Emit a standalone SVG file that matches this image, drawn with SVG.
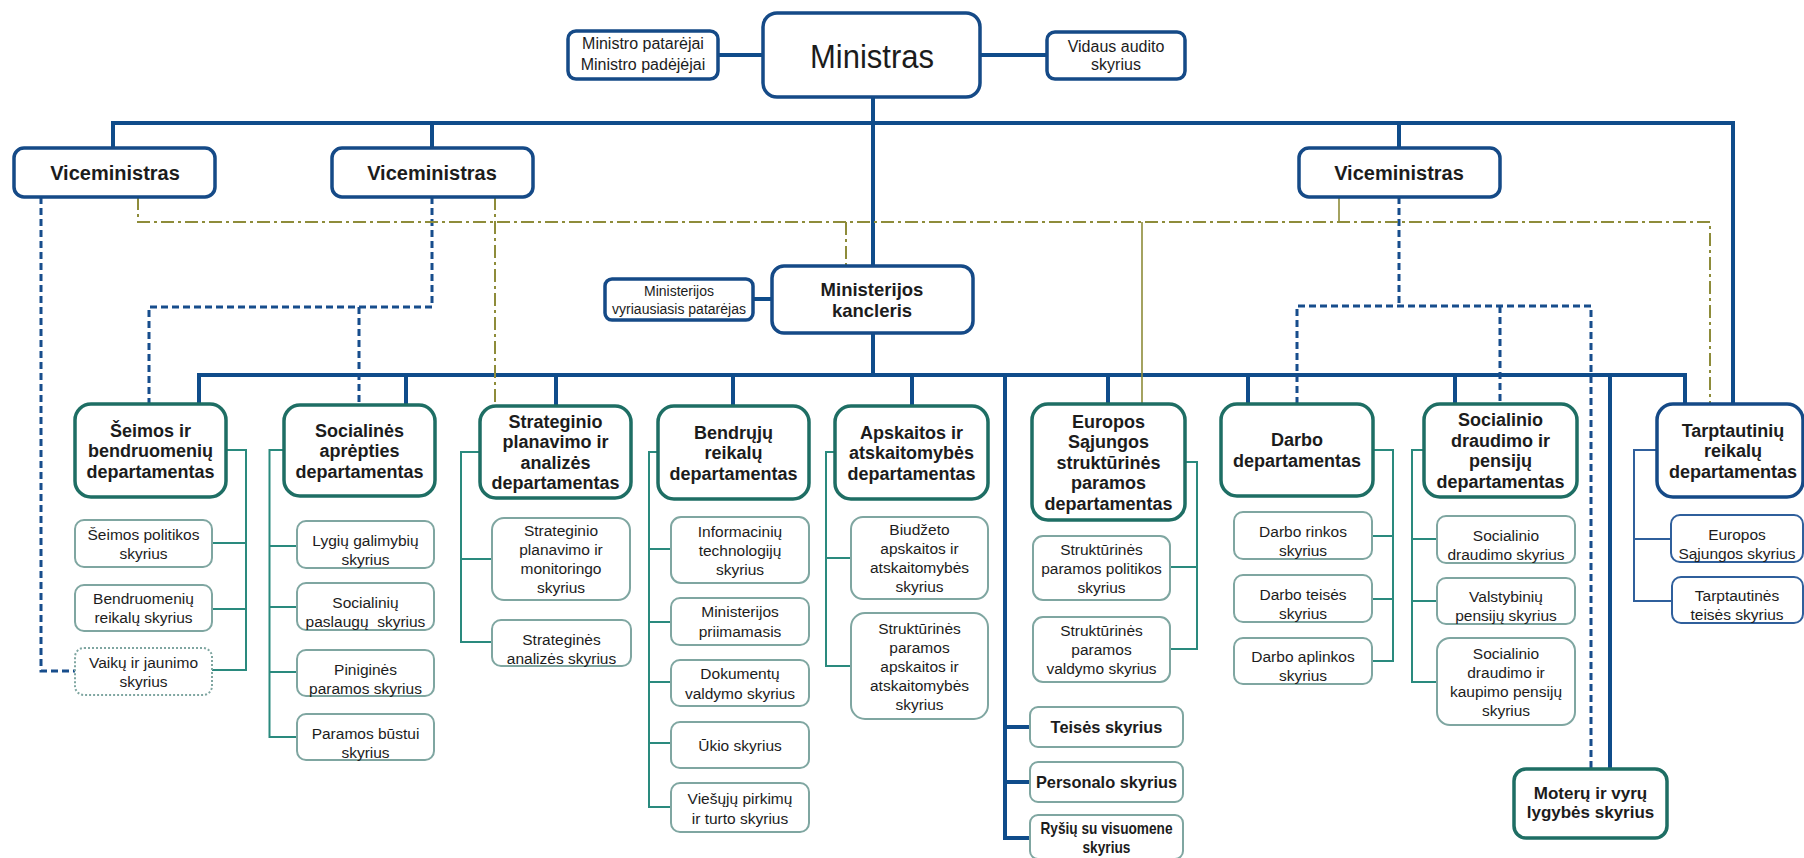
<svg xmlns="http://www.w3.org/2000/svg" width="1804" height="858" viewBox="0 0 1804 858">
<style>
text{font-family:"Liberation Sans",Arial,sans-serif;fill:#1c1c1c;text-anchor:middle}
.bx{fill:#fff;stroke:#154a87;stroke-width:3.5}
.dp{fill:#fff;stroke:#1e6e64;stroke-width:3.5}
.sb{fill:#fff;stroke:#7fa6a1;stroke-width:2}
.sbb{fill:#fff;stroke:#2f5f9c;stroke-width:2}
.m{fill:none;stroke:#0f4c8a;stroke-width:4}
.bd{fill:none;stroke:#174d8c;stroke-width:3;stroke-dasharray:7 4}
.ol{fill:none;stroke:#8e8c3a;stroke-width:2;stroke-dasharray:13 4 3 4}
.os{fill:none;stroke:#8e8c3a;stroke-width:1.6}
.tc{fill:none;stroke:#2a8a7e;stroke-width:2}
.tb{fill:none;stroke:#2f5f9c;stroke-width:2}
.vm{font-size:20px;font-weight:bold}
.d{font-size:18px;font-weight:bold}
.s{font-size:15.5px}
.sm{font-size:16px}
.bs{font-size:16.4px;font-weight:bold}
</style>
<g id="connectors">
<path class="m" d="M873 97V266M873 333V375"/>
<path class="m" stroke-width="4.5" d="M113 148V123H1733V404M432 123V148M1399 123V148"/>
<path class="m" stroke-width="3" d="M718 55H763M980 55H1047M753 299H772"/>
<path class="m" d="M199 404V375H1685V404M406 375V405M556 375V406M733 375V406M912 375V406M1108 375V404M1248 375V404M1455 375V404M1610 375V769"/>
<path class="m" stroke-width="3.5" d="M1005 375V838H1030M1005 727H1030M1005 782H1030"/>
<path class="bd" d="M41 197V671H75M432 197V307H149V404M359 307V405M1399 197V306M1297 404V306H1591V769M1500 306V404"/>
<path class="ol" d="M138 197V222H1710V404M495 197V406M846 222V266"/>
<path class="os" d="M1142 222V404M1339 197V222"/>
<path class="tc" d="M226 450H246V670H212M246 543H212M246 609H212"/>
<path class="tc" d="M284 450H269.5V737H297M269.5 546H297M269.5 607H297M269.5 672H297"/>
<path class="tc" d="M480 452H461V642H492M461 559H492"/>
<path class="tc" d="M658 452H649V807H671M649 549H671M649 622H671M649 682H671M649 743H671"/>
<path class="tc" d="M835 452H826V666H851M826 558H851"/>
<path class="tc" d="M1185 462H1197V649H1170M1197 567H1170"/>
<path class="tc" d="M1373 450H1393V661H1372M1393 536H1372M1393 599H1372"/>
<path class="tc" d="M1424 450H1412V682H1437M1412 539H1437M1412 601H1437"/>
<path class="tb" d="M1657 450H1634V601H1671M1634 539H1671"/>
</g>
<g id="ministras"><rect class="bx" x="763" y="13" width="217" height="84" rx="14" stroke-width="4.5"/><text x="872" y="68" font-size="33" textLength="124" lengthAdjust="spacingAndGlyphs">Ministras</text></g>
<g id="patarejai"><rect class="bx" x="568" y="31" width="150" height="48" rx="8" stroke="#4d72aa" stroke-width="2"/><text class="sm"><tspan x="643" y="49">Ministro patarėjai</tspan><tspan x="643" y="70">Ministro padėjėjai</tspan></text></g>
<g id="auditas"><rect class="bx" x="1047" y="32" width="138" height="47" rx="8" stroke-width="3"/><text class="sm"><tspan x="1116" y="52">Vidaus audito</tspan><tspan x="1116" y="70">skyrius</tspan></text></g>
<g id="vm1"><rect class="bx" x="14" y="148" width="201" height="49" rx="10"/><text class="vm" x="115" y="180">Viceministras</text></g>
<g id="vm2"><rect class="bx" x="332" y="148" width="201" height="49" rx="10"/><text class="vm" x="432" y="180">Viceministras</text></g>
<g id="vm3"><rect class="bx" x="1299" y="148" width="201" height="49" rx="10"/><text class="vm" x="1399" y="180">Viceministras</text></g>
<g id="kancleris"><rect class="bx" x="772" y="266" width="201" height="67" rx="12"/><text font-size="18.5" font-weight="bold"><tspan x="872" y="296">Ministerijos</tspan><tspan x="872" y="317">kancleris</tspan></text></g>
<g id="vyr-patarejas"><rect class="bx" x="605" y="279" width="148" height="41" rx="7" stroke="#4d72aa" stroke-width="2"/><text font-size="14"><tspan x="679" y="296">Ministerijos</tspan><tspan x="679" y="314">vyriausiasis patarėjas</tspan></text></g>

<g id="d-seimos"><rect class="dp" x="75" y="404" width="151" height="93" rx="16"/><text class="d"><tspan x="150.5" y="436.5">Šeimos ir</tspan><tspan x="150.5" y="457">bendruomenių</tspan><tspan x="150.5" y="477.5">departamentas</tspan></text></g>
<g id="d-socialines"><rect class="dp" x="284" y="405" width="151" height="91" rx="16"/><text class="d"><tspan x="359.5" y="436.5">Socialinės</tspan><tspan x="359.5" y="457">aprėpties</tspan><tspan x="359.5" y="477.5">departamentas</tspan></text></g>
<g id="d-strateginio"><rect class="dp" x="480" y="406" width="151" height="92" rx="16"/><text class="d"><tspan x="555.5" y="427.75">Strateginio</tspan><tspan x="555.5" y="448.25">planavimo ir</tspan><tspan x="555.5" y="468.75">analizės</tspan><tspan x="555.5" y="489.25">departamentas</tspan></text></g>
<g id="d-bendruju"><rect class="dp" x="658" y="406" width="151" height="93" rx="16"/><text class="d"><tspan x="733.5" y="438.5">Bendrųjų</tspan><tspan x="733.5" y="459">reikalų</tspan><tspan x="733.5" y="479.5">departamentas</tspan></text></g>
<g id="d-apskaitos"><rect class="dp" x="835" y="406" width="153" height="93" rx="16"/><text class="d"><tspan x="911.5" y="438.5">Apskaitos ir</tspan><tspan x="911.5" y="459">atskaitomybės</tspan><tspan x="911.5" y="479.5">departamentas</tspan></text></g>
<g id="d-europos"><rect class="dp" x="1032" y="404" width="153" height="116" rx="16"/><text class="d"><tspan x="1108.5" y="427.5">Europos</tspan><tspan x="1108.5" y="448">Sąjungos</tspan><tspan x="1108.5" y="468.5">struktūrinės</tspan><tspan x="1108.5" y="489">paramos</tspan><tspan x="1108.5" y="509.5">departamentas</tspan></text></g>
<g id="d-darbo"><rect class="dp" x="1221" y="404" width="152" height="92" rx="16"/><text class="d"><tspan x="1297" y="446.25">Darbo</tspan><tspan x="1297" y="466.75">departamentas</tspan></text></g>
<g id="d-socialinio"><rect class="dp" x="1424" y="404" width="153" height="93" rx="16"/><text class="d"><tspan x="1500.5" y="426.25">Socialinio</tspan><tspan x="1500.5" y="446.75">draudimo ir</tspan><tspan x="1500.5" y="467.25">pensijų</tspan><tspan x="1500.5" y="487.75">departamentas</tspan></text></g>
<g id="d-tarptautiniu"><rect class="bx" x="1657" y="404" width="146" height="93" rx="16"/><text class="d"><tspan x="1733" y="436.5">Tarptautinių</tspan><tspan x="1733" y="457">reikalų</tspan><tspan x="1733" y="477.5">departamentas</tspan></text></g>

<g id="s-seimos-pol"><rect class="sb" x="75" y="520" width="137" height="47" rx="9"/><text class="s"><tspan x="143.5" y="539.5">Šeimos politikos</tspan><tspan x="143.5" y="558.5">skyrius</tspan></text></g>
<g id="s-bendruomeniu"><rect class="sb" x="75" y="585" width="137" height="46" rx="9"/><text class="s"><tspan x="143.5" y="604">Bendruomenių</tspan><tspan x="143.5" y="623">reikalų skyrius</tspan></text></g>
<g id="s-vaiku"><rect class="sb" x="75" y="648" width="137" height="47" rx="9" stroke="#2a8a7e" stroke-dasharray="2 2"/><text class="s"><tspan x="143.5" y="667.5">Vaikų ir jaunimo</tspan><tspan x="143.5" y="686.5">skyrius</tspan></text></g>

<g id="s-lygiu"><rect class="sb" x="297" y="521" width="137" height="47" rx="9"/><text class="s"><tspan x="365.5" y="545.5">Lygių galimybių</tspan><tspan x="365.5" y="564.5">skyrius</tspan></text></g>
<g id="s-paslaugu"><rect class="sb" x="297" y="583" width="137" height="47" rx="9"/><text class="s" style="white-space:pre"><tspan x="365.5" y="607.5">Socialinių</tspan><tspan x="365.5" y="626.5">paslaugų  skyrius</tspan></text></g>
<g id="s-pinigines"><rect class="sb" x="297" y="650" width="137" height="46" rx="9"/><text class="s"><tspan x="365.5" y="674.5">Piniginės</tspan><tspan x="365.5" y="693.5">paramos skyrius</tspan></text></g>
<g id="s-bustui"><rect class="sb" x="297" y="714" width="137" height="46" rx="9"/><text class="s"><tspan x="365.5" y="738.5">Paramos būstui</tspan><tspan x="365.5" y="757.5">skyrius</tspan></text></g>

<g id="s-strat-plan"><rect class="sb" x="492" y="518" width="138" height="82" rx="12"/><text class="s"><tspan x="561" y="536">Strateginio</tspan><tspan x="561" y="555">planavimo ir</tspan><tspan x="561" y="574">monitoringo</tspan><tspan x="561" y="593">skyrius</tspan></text></g>
<g id="s-strat-anal"><rect class="sb" x="492" y="620" width="139" height="46" rx="9"/><text class="s"><tspan x="561.5" y="644.5">Strateginės</tspan><tspan x="561.5" y="663.5">analizės skyrius</tspan></text></g>

<g id="s-it"><rect class="sb" x="671" y="517" width="138" height="66" rx="10"/><text class="s"><tspan x="740" y="536.5">Informacinių</tspan><tspan x="740" y="555.5">technologijų</tspan><tspan x="740" y="574.5">skyrius</tspan></text></g>
<g id="s-priimamasis"><rect class="sb" x="671" y="598" width="138" height="47" rx="9"/><text class="s"><tspan x="740" y="617">Ministerijos</tspan><tspan x="740" y="637">priimamasis</tspan></text></g>
<g id="s-dokumentu"><rect class="sb" x="671" y="660" width="138" height="46" rx="9"/><text class="s"><tspan x="740" y="678.5">Dokumentų</tspan><tspan x="740" y="698.5">valdymo skyrius</tspan></text></g>
<g id="s-ukio"><rect class="sb" x="671" y="722" width="138" height="46" rx="9"/><text class="s" x="740" y="750.5">Ūkio skyrius</text></g>
<g id="s-viesuju"><rect class="sb" x="671" y="783" width="138" height="49" rx="9"/><text class="s"><tspan x="740" y="803.5">Viešųjų pirkimų</tspan><tspan x="740" y="823.5">ir turto skyrius</tspan></text></g>

<g id="s-biudzeto"><rect class="sb" x="851" y="517" width="137" height="82" rx="12"/><text class="s"><tspan x="919.5" y="535">Biudžeto</tspan><tspan x="919.5" y="554">apskaitos ir</tspan><tspan x="919.5" y="573">atskaitomybės</tspan><tspan x="919.5" y="592">skyrius</tspan></text></g>
<g id="s-strukt-apsk"><rect class="sb" x="851" y="613" width="137" height="106" rx="14"/><text class="s"><tspan x="919.5" y="633.5">Struktūrinės</tspan><tspan x="919.5" y="652.5">paramos</tspan><tspan x="919.5" y="671.5">apskaitos ir</tspan><tspan x="919.5" y="690.5">atskaitomybės</tspan><tspan x="919.5" y="709.5">skyrius</tspan></text></g>

<g id="s-strukt-pol"><rect class="sb" x="1033" y="536" width="137" height="64" rx="10"/><text class="s"><tspan x="1101.5" y="554.5">Struktūrinės</tspan><tspan x="1101.5" y="573.5">paramos politikos</tspan><tspan x="1101.5" y="592.5">skyrius</tspan></text></g>
<g id="s-strukt-vald"><rect class="sb" x="1033" y="617" width="137" height="65" rx="10"/><text class="s"><tspan x="1101.5" y="636">Struktūrinės</tspan><tspan x="1101.5" y="655">paramos</tspan><tspan x="1101.5" y="674">valdymo skyrius</tspan></text></g>

<g id="s-teises"><rect class="sb" x="1030" y="707" width="153" height="40" rx="8" stroke-width="2.5"/><text class="bs" x="1106.5" y="733">Teisės skyrius</text></g>
<g id="s-personalo"><rect class="sb" x="1030" y="762" width="153" height="40" rx="8" stroke-width="2.5"/><text class="bs" x="1106.5" y="788">Personalo skyrius</text></g>
<g id="s-rysiu"><rect class="sb" x="1030" y="815" width="153" height="44" rx="8" stroke-width="2.5"/><text class="bs"><tspan x="1106.5" y="834" textLength="132" lengthAdjust="spacingAndGlyphs">Ryšių su visuomene</tspan><tspan x="1106.5" y="853" textLength="48" lengthAdjust="spacingAndGlyphs">skyrius</tspan></text></g>

<g id="s-darbo-rinkos"><rect class="sb" x="1234" y="512" width="138" height="47" rx="9"/><text class="s"><tspan x="1303" y="536.5">Darbo rinkos</tspan><tspan x="1303" y="555.5">skyrius</tspan></text></g>
<g id="s-darbo-teises"><rect class="sb" x="1234" y="575" width="138" height="47" rx="9"/><text class="s"><tspan x="1303" y="599.5">Darbo teisės</tspan><tspan x="1303" y="618.5">skyrius</tspan></text></g>
<g id="s-darbo-aplinkos"><rect class="sb" x="1234" y="638" width="138" height="46" rx="9"/><text class="s"><tspan x="1303" y="662">Darbo aplinkos</tspan><tspan x="1303" y="681">skyrius</tspan></text></g>

<g id="s-soc-draudimo"><rect class="sb" x="1437" y="516" width="138" height="47" rx="9"/><text class="s"><tspan x="1506" y="540.5">Socialinio</tspan><tspan x="1506" y="559.5">draudimo skyrius</tspan></text></g>
<g id="s-valstybiniu"><rect class="sb" x="1437" y="578" width="138" height="46" rx="9"/><text class="s"><tspan x="1506" y="602">Valstybinių</tspan><tspan x="1506" y="621">pensijų skyrius</tspan></text></g>
<g id="s-kaupimo"><rect class="sb" x="1437" y="638" width="138" height="87" rx="13"/><text class="s"><tspan x="1506" y="658.5">Socialinio</tspan><tspan x="1506" y="677.5">draudimo ir</tspan><tspan x="1506" y="696.5">kaupimo pensijų</tspan><tspan x="1506" y="715.5">skyrius</tspan></text></g>

<g id="s-es"><rect class="sbb" x="1671" y="515" width="132" height="47" rx="9"/><text class="s"><tspan x="1737" y="539.5">Europos</tspan><tspan x="1737" y="558.5">Sąjungos skyrius</tspan></text></g>
<g id="s-tarpt-teises"><rect class="sbb" x="1672" y="577" width="131" height="46" rx="9"/><text class="s"><tspan x="1737" y="601">Tarptautinės</tspan><tspan x="1737" y="620">teisės skyrius</tspan></text></g>

<g id="moteru"><rect class="dp" x="1514" y="769" width="153" height="69" rx="12"/><text font-size="17" font-weight="bold"><tspan x="1590.5" y="799">Moterų ir vyrų</tspan><tspan x="1590.5" y="818">lygybės skyrius</tspan></text></g>
</svg>
